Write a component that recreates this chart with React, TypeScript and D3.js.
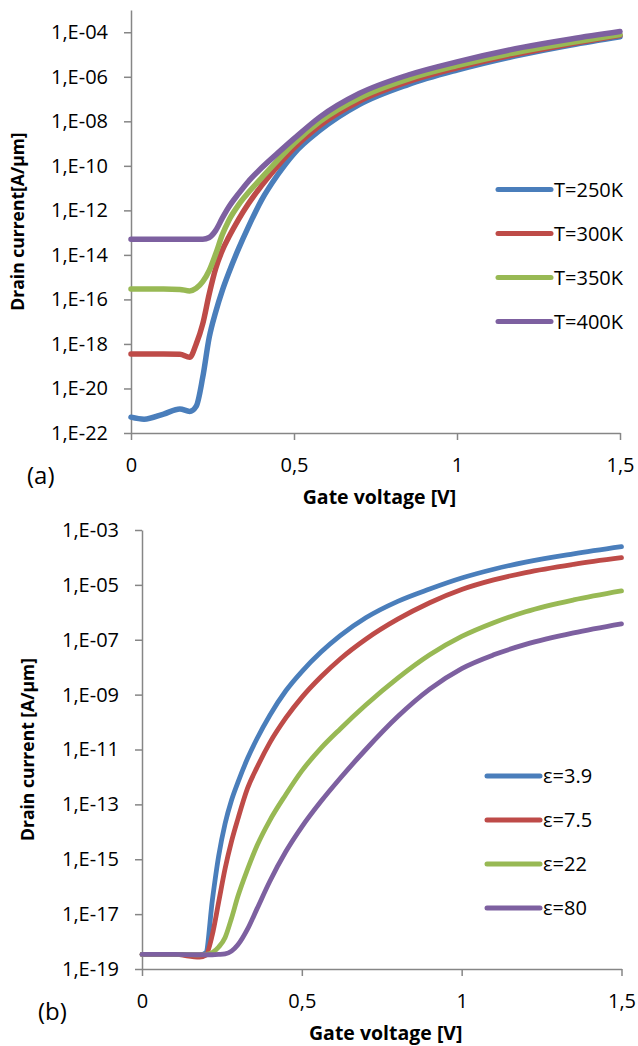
import { useEffect, useRef } from "react";
import * as d3 from "d3";

// ---- data (current given as log10 exponent, e.g. -21.3 means 1e-21.3 A/um) ----

const topVoltage = [0, 0.04, 0.1, 0.15, 0.18, 0.2, 0.22, 0.24, 0.26, 0.28, 0.3, 0.33, 0.36, 0.4, 0.45, 0.5, 0.58, 0.7, 0.85, 1.0, 1.2, 1.35, 1.5];
const t250 = [-21.29, -21.38, -21.15, -20.92, -21.03, -20.8, -19.5, -17.7, -16.55, -15.6, -14.8, -13.72, -12.74, -11.55, -10.4, -9.45, -8.4, -7.25, -6.35, -5.7, -5.0, -4.57, -4.2];
const t300 = [-18.45, -18.45, -18.45, -18.46, -18.6, -18.0, -17.1, -15.75, -14.6, -13.8, -13.2, -12.4, -11.7, -10.9, -10.0, -9.2, -8.18, -7.1, -6.22, -5.6, -4.93, -4.52, -4.14];
const t350 = [-15.53, -15.53, -15.53, -15.55, -15.62, -15.5, -15.2, -14.7, -13.95, -13.1, -12.45, -11.75, -11.2, -10.55, -9.75, -9.0, -8.0, -6.95, -6.1, -5.5, -4.85, -4.46, -4.1];
const t400 = [-13.3, -13.3, -13.3, -13.3, -13.3, -13.3, -13.3, -13.22, -12.9, -12.35, -11.85, -11.25, -10.7, -10.1, -9.43, -8.78, -7.8, -6.75, -5.92, -5.33, -4.68, -4.3, -3.97];
const topNames = ["T=250K", "T=300K", "T=350K", "T=400K"];

const bottomVoltage = [0, 0.1, 0.18, 0.2, 0.22, 0.24, 0.26, 0.28, 0.3, 0.33, 0.36, 0.4, 0.45, 0.5, 0.56, 0.62, 0.7, 0.8, 0.9, 1.0, 1.1, 1.2, 1.35, 1.5];
const eps39 = [-18.47, -18.47, -18.5, -18.4, -16.5, -14.87, -13.7, -12.85, -12.2, -11.33, -10.6, -9.75, -8.86, -8.16, -7.45, -6.85, -6.2, -5.6, -5.15, -4.75, -4.43, -4.17, -3.87, -3.61];
const eps75 = [-18.47, -18.47, -18.57, -18.5, -17.75, -16.55, -15.34, -14.35, -13.53, -12.42, -11.65, -10.75, -9.85, -9.1, -8.35, -7.7, -6.98, -6.25, -5.65, -5.17, -4.82, -4.55, -4.25, -4.01];
const eps22 = [-18.47, -18.47, -18.48, -18.47, -18.4, -18.2, -17.85, -17.15, -16.35, -15.37, -14.5, -13.58, -12.64, -11.78, -10.95, -10.25, -9.38, -8.4, -7.55, -6.88, -6.38, -5.98, -5.55, -5.22];
const eps80 = [-18.47, -18.47, -18.48, -18.48, -18.48, -18.47, -18.45, -18.35, -18.12, -17.55, -16.8, -15.8, -14.72, -13.82, -12.89, -12.05, -11.0, -9.8, -8.8, -8.05, -7.55, -7.17, -6.75, -6.42];
const bottomNames = ["\u03b5=3.9", "\u03b5=7.5", "\u03b5=22", "\u03b5=80"];

const xTicks = [0, 0.5, 1, 1.5];
const xTickLabels = ["0", "0,5", "1", "1,5"];
const topYTicks = [-22, -20, -18, -16, -14, -12, -10, -8, -6, -4];
const bottomYTicks = [-19, -17, -15, -13, -11, -9, -7, -5, -3];

const COLORS = ["#4A7EBB", "#BE4B48", "#98B954", "#7D60A0"];
const AXIS = "#868686";
const FONT = "'Open Sans', 'Noto Sans', sans-serif";

const expLabel = (e: number) => `1,E-${String(Math.abs(e)).padStart(2, "0")}`;

type Panel = {
  voltage: number[];
  series: number[][];
  names: string[];
  yMin: number;
  yMax: number;
  yTicks: number[];
  left: number;
  right: number;
  top: number;
  bottom: number;
  lineWidth: number;
  yTitle: string;
  yTitleX: number;
  tag: string;
  legendX: number;
  legendY: number;
};

const panels: Panel[] = [
  {
    voltage: topVoltage,
    series: [t250, t300, t350, t400],
    names: topNames,
    yMin: -22,
    yMax: -3,
    yTicks: topYTicks,
    left: 131,
    right: 620,
    top: 10,
    bottom: 433,
    lineWidth: 5.5,
    yTitle: "Drain current[A/\u00b5m]",
    yTitleX: 18,
    tag: "(a)",
    legendX: 498,
    legendY: 189.5,
  },
  {
    voltage: bottomVoltage,
    series: [eps39, eps75, eps22, eps80],
    names: bottomNames,
    yMin: -19,
    yMax: -3,
    yTicks: bottomYTicks,
    left: 142,
    right: 621.5,
    top: 530,
    bottom: 969,
    lineWidth: 4.8,
    yTitle: "Drain current [A/\u00b5m]",
    yTitleX: 28,
    tag: "(b)",
    legendX: 487,
    legendY: 776,
  },
];

function drawPanel(svg: d3.Selection<SVGSVGElement, unknown, null, undefined>, p: Panel) {
  const x = d3.scaleLinear().domain([0, 1.5]).range([p.left, p.right]);
  const y = d3
    .scaleLog()
    .domain([10 ** p.yMin, 10 ** p.yMax])
    .range([p.bottom, p.top]);

  const g = svg.append("g");

  const yAxis = d3
    .axisLeft(y)
    .tickValues(p.yTicks.map((e) => 10 ** e))
    .tickFormat((_d, i) => expLabel(p.yTicks[i]))
    .tickSize(7)
    .tickSizeOuter(0)
    .tickPadding(16);
  const xAxis = d3
    .axisBottom(x)
    .tickValues(xTicks)
    .tickFormat((_d, i) => xTickLabels[i])
    .tickSize(7)
    .tickSizeOuter(0)
    .tickPadding(18);

  const yg = g.append("g").attr("transform", `translate(${p.left},0)`).call(yAxis);
  const xg = g.append("g").attr("transform", `translate(0,${p.bottom})`).call(xAxis);
  [yg, xg].forEach((a) => {
    a.attr("font-family", FONT).attr("font-size", 20);
    a.select(".domain").attr("stroke", AXIS).attr("stroke-width", 1.5);
    a.selectAll(".tick line").attr("stroke", AXIS).attr("stroke-width", 1.5);
    a.selectAll(".tick text").attr("fill", "#000");
  });

  const line = d3
    .line<number>()
    .x((_d, i) => x(p.voltage[i]))
    .y((d) => y(10 ** d))
    .curve(d3.curveMonotoneX);

  g.append("g")
    .selectAll("path")
    .data(p.series)
    .enter()
    .append("path")
    .attr("d", (d) => line(d))
    .attr("fill", "none")
    .attr("stroke", (_d, i) => COLORS[i])
    .attr("stroke-width", p.lineWidth)
    .attr("stroke-linecap", "round")
    .attr("stroke-linejoin", "round");

  // axis titles
  const cy = (p.top + p.bottom) / 2;
  g.append("text")
    .attr("transform", `translate(${p.yTitleX},${cy}) rotate(-90)`)
    .attr("text-anchor", "middle")
    .attr("dy", "0.35em")
    .attr("font-family", FONT)
    .attr("font-weight", "bold")
    .attr("font-size", 17.5)
    .text(p.yTitle);

  g.append("text")
    .attr("x", (p.left + p.right) / 2 + 4)
    .attr("y", p.bottom + 64)
    .attr("text-anchor", "middle")
    .attr("dy", "0.35em")
    .attr("font-family", FONT)
    .attr("font-weight", "bold")
    .attr("font-size", 19.5)
    .text("Gate voltage [V]");

  g.append("text")
    .attr("x", p.left - 104)
    .attr("y", p.bottom + 43)
    .attr("dy", "0.35em")
    .attr("font-family", FONT)
    .attr("font-size", 24)
    .text(p.tag);

  // legend
  const lg = g
    .append("g")
    .selectAll("g")
    .data(p.names)
    .enter()
    .append("g")
    .attr("transform", (_d, i) => `translate(${p.legendX},${p.legendY + i * 44})`);
  lg.append("line")
    .attr("x1", 0)
    .attr("x2", 53)
    .attr("stroke", (_d, i) => COLORS[i])
    .attr("stroke-width", 5)
    .attr("stroke-linecap", "round");
  lg.append("text")
    .attr("x", 56)
    .attr("dy", "0.36em")
    .attr("font-family", FONT)
    .attr("font-size", 20)
    .text((d) => d);
}

export default function App() {
  const svgRef = useRef<SVGSVGElement>(null);

  useEffect(() => {
    const svg = d3.select(svgRef.current!);
    svg.selectAll("*").remove();
    svg.append("rect").attr("width", 638).attr("height", 1046).attr("fill", "white");
    panels.forEach((p) => drawPanel(svg, p));
  }, []);

  return (
    <svg
      ref={svgRef}
      width={638}
      height={1046}
      style={{ position: "absolute", left: 0, top: 0, display: "block" }}
    ></svg>
  );
}
